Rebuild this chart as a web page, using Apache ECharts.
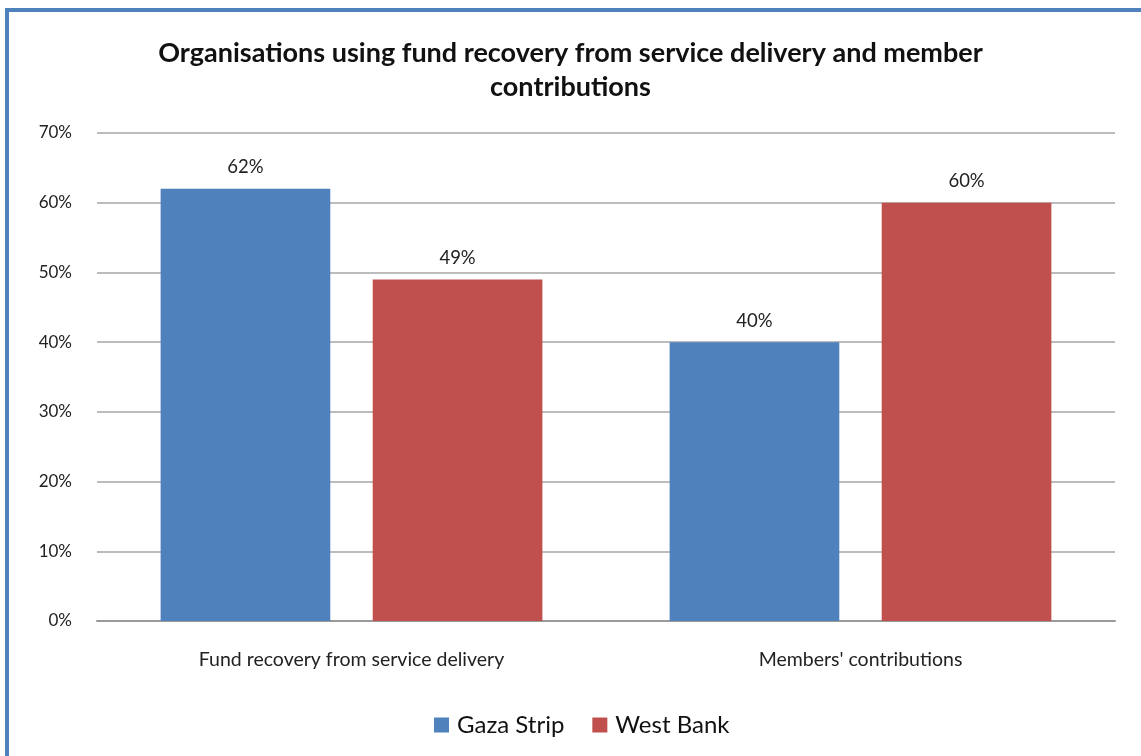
<!DOCTYPE html>
<html>
<head>
<meta charset="utf-8">
<script src="https://cdn.jsdelivr.net/npm/echarts@6/dist/echarts.min.js"></script>
<style>
  html, body { margin: 0; padding: 0; background: #fff; }
  #frame { position: absolute; left: 5px; top: 8px; width: 1136px; height: 748px;
           border-left: 4px solid #4F81BD; border-top: 4px solid #4F81BD; box-sizing: border-box; }
  #chart { position: absolute; left: 0; top: 0; width: 1141px; height: 756px; }
</style>
</head>
<body>
<div id="frame"></div>
<div id="chart"></div>
<script>
// Categories, series and axis ticks
const categories = ['Fund recovery from service delivery', "Members' contributions"];
const gazaStrip = [62, 40];
const westBank = [49, 60];
const seriesNames = ['Gaza Strip', 'West Bank'];
const titleText = 'Organisations using fund recovery from service delivery and member\ncontributions';

const font = 'Lato, "Open Sans", sans-serif';
const chart = echarts.init(document.getElementById('chart'), null, { renderer: 'canvas' });

const labelStyle = {
  show: true,
  position: 'top',
  distance: 12,
  color: '#222',
  fontFamily: font,
  fontSize: 18.5,
  formatter: p => Math.round(p.value) + '%'
};

chart.setOption({
  backgroundColor: 'transparent',
  animation: false,
  title: {
    text: titleText,
    left: 'center',
    top: 31,
    textStyle: { fontFamily: font, fontWeight: 'bold', fontSize: 27, color: '#111', lineHeight: 34 }
  },
  legend: {
    data: seriesNames,
    bottom: 14,
    left: 429,
    itemWidth: 15,
    itemHeight: 15,
    itemGap: 28,
    icon: 'rect',
    textStyle: { fontFamily: font, fontSize: 24, color: '#111', padding: [0, 0, 0, 3] }
  },
  grid: { left: 97, right: 26, top: 133, bottom: 135, containLabel: false },
  xAxis: {
    type: 'category',
    data: categories,
    axisLine: { show: true, lineStyle: { color: '#9a9a9a', width: 2 } },
    axisTick: { show: false },
    axisLabel: { fontFamily: font, fontSize: 19.5, color: '#222', margin: 29 }
  },
  yAxis: {
    type: 'value',
    min: 0,
    max: 70,
    interval: 10,
    axisLine: { show: false },
    axisTick: { show: false },
    splitLine: { lineStyle: { color: '#a6a6a6', width: 1.5 } },
    axisLabel: { fontFamily: font, fontSize: 17, color: '#222', margin: 25, formatter: '{value}%' }
  },
  series: [
    {
      name: seriesNames[0], type: 'bar', data: gazaStrip,
      itemStyle: { color: '#4F81BD' },
      barGap: '25%', barCategoryGap: '25%',
      label: labelStyle
    },
    {
      name: seriesNames[1], type: 'bar', data: westBank,
      itemStyle: { color: '#C0504D' },
      barGap: '25%', barCategoryGap: '25%',
      label: labelStyle
    }
  ]
});
</script>
</body>
</html>
